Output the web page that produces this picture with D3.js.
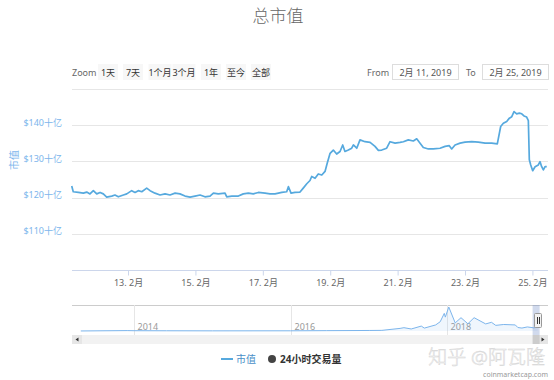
<!DOCTYPE html>
<html><head><meta charset="utf-8">
<script src="https://cdn.jsdelivr.net/npm/d3@7"></script>
<style>
html,body{margin:0;padding:0;background:#fff;}
svg{display:block;font-family:"Noto Sans","Noto Sans CJK SC",sans-serif;}
</style></head><body>
<svg id="chart" width="554" height="380"></svg>
<script>
// ---- data ----
const mcapTimes = ["02-11 07:54","02-11 09:00","02-11 12:36","02-11 16:12","02-11 18:36","02-11 20:54","02-11 23:18","02-12 01:42","02-12 04:06","02-12 06:24","02-12 08:48","02-12 12:24","02-12 14:42","02-12 17:06","02-12 20:42","02-12 23:06","02-13 02:36","02-13 05:00","02-13 07:18","02-13 09:48","02-13 13:18","02-13 15:42","02-13 19:12","02-13 22:48","02-14 02:24","02-14 05:54","02-14 09:30","02-14 13:00","02-14 16:36","02-14 20:12","02-14 23:42","02-15 03:18","02-15 06:48","02-15 10:24","02-15 12:48","02-15 16:18","02-15 21:06","02-15 22:18","02-16 01:54","02-16 06:36","02-16 10:06","02-16 13:42","02-16 17:12","02-16 20:48","02-17 01:36","02-17 05:06","02-17 08:42","02-17 13:30","02-17 17:00","02-17 18:12","02-17 20:06","02-17 22:54","02-18 02:30","02-18 04:48","02-18 07:18","02-18 09:36","02-18 10:48","02-18 13:12","02-18 15:30","02-18 18:00","02-18 20:18","02-18 21:54","02-18 23:54","02-19 02:12","02-19 04:36","02-19 07:00","02-19 08:54","02-19 10:30","02-19 12:54","02-19 15:18","02-19 16:30","02-19 18:54","02-19 21:12","02-20 00:48","02-20 04:24","02-20 07:54","02-20 10:18","02-20 12:42","02-20 16:12","02-20 18:36","02-20 22:12","02-21 01:42","02-21 04:06","02-21 07:36","02-21 11:12","02-21 13:36","02-21 16:00","02-21 18:18","02-21 21:54","02-22 01:24","02-22 06:12","02-22 09:48","02-22 12:48","02-22 14:30","02-22 16:54","02-22 20:30","02-23 00:00","02-23 04:48","02-23 09:30","02-23 14:18","02-23 19:00","02-23 23:00","02-24 01:24","02-24 03:18","02-24 05:42","02-24 07:36","02-24 09:18","02-24 10:54","02-24 12:48","02-24 14:42","02-24 16:24","02-24 18:00","02-24 19:54","02-24 21:06","02-24 21:48","02-24 22:48","02-25 00:12","02-25 01:54","02-25 04:12","02-25 05:24","02-25 06:36","02-25 07:48","02-25 09:00","02-25 10:12"];
const mcapValues = [123.2,121.6,121.4,121.2,121.5,121.0,121.9,121.0,121.4,121.0,120.1,120.4,120.7,120.2,120.7,121.0,121.9,121.4,121.9,121.6,122.6,121.9,121.2,120.7,121.0,120.7,121.2,121.0,120.4,120.1,120.4,120.7,120.2,120.4,121.2,121.0,121.2,120.2,120.4,120.4,121.0,121.2,121.0,121.4,121.2,121.0,121.0,121.4,121.6,123.0,121.2,121.4,121.5,122.6,123.8,124.7,125.8,125.3,126.5,126.2,127.2,129.5,132.2,133.1,132.0,132.7,134.5,132.7,133.1,133.6,134.5,133.6,135.9,135.4,135.2,134.1,133.0,133.1,133.6,135.4,135.0,135.2,135.4,135.9,135.6,136.2,135.0,133.8,133.4,133.4,133.6,134.1,134.3,133.4,134.5,135.0,135.3,135.4,135.3,135.0,135.0,134.8,139.6,140.5,141.0,141.9,142.3,143.7,143.1,143.3,143.1,142.5,142.2,141.2,130.4,129.0,127.4,128.5,129.0,129.9,128.5,127.6,128.5,128.5];
const yTickValues = [110,120,130,140,150];
const yLabelValues = [110,120,130,140];
const xTickDays = ["02-13","02-15","02-17","02-19","02-21","02-23","02-25"];
const navDates = ["2013-04-28","2013-11-30","2014-01-01","2014-06-01","2015-01-01","2016-01-01","2016-06-15","2017-01-01","2017-03-01","2017-05-25","2017-06-12","2017-07-16","2017-09-01","2017-09-15","2017-11-07","2017-11-28","2017-12-17","2017-12-22","2018-01-07","2018-02-06","2018-03-05","2018-04-06","2018-05-05","2018-06-28","2018-07-25","2018-08-14","2018-09-20","2018-11-13","2018-11-25","2018-12-14","2019-01-08","2019-02-07","2019-02-25"];
const navValues = [1.6,14,10,8,5,7,12,18,22,90,115,70,170,100,210,320,610,480,830,280,460,250,460,245,300,195,225,210,120,102,140,110,130];
const navYears = ["2014","2016","2018"];
const rangeButtons = ["1天","7天","1个月","3个月","1年","至今","全部"];
const legendItems = ["市值","24小时交易量"];

// ---- setup ----
const svg = d3.select("#chart");
const parseT = d3.timeParse("%Y-%m-%d %H:%M");
const parseD = d3.timeParse("%Y-%m-%d");
const series = mcapTimes.map((t,i)=>({t:parseT("2019-"+t), v:mcapValues[i]}));

const L = 72, R = 548, T = 88.8, B = 270;
const x = d3.scaleTime().domain([parseT("2019-02-11 08:06"), parseT("2019-02-25 11:06")]).range([L, R]);
const y = d3.scaleLinear().domain([100,150]).range([B, T]);

const blue = "#56a9de";

// title
svg.append("text").attr("x",278).attr("y",22).attr("text-anchor","middle")
  .attr("font-size",17).attr("font-weight",300).attr("fill","#666").text("总市值");

// range selector
svg.append("text").attr("x",72).attr("y",75.5).attr("font-size",9).attr("fill","#666").text("Zoom");
const btnCenters = [108,133,160,184,211,236,261];
rangeButtons.forEach((b,i)=>{
  const w = b.length>2 ? 23 : 20;
  svg.append("rect").attr("x",btnCenters[i]-w/2).attr("y",64).attr("width",w).attr("height",16)
    .attr("fill","#f7f7f7");
  svg.append("text").attr("x",btnCenters[i]).attr("y",75.5).attr("text-anchor","middle")
    .attr("font-size",9).attr("fill","#333").text(b);
});
svg.append("text").attr("x",367).attr("y",75.5).attr("font-size",9).attr("fill","#666").text("From");
svg.append("rect").attr("x",392.5).attr("y",64.5).attr("width",66).attr("height",15).attr("fill","#fff").attr("stroke","#ddd");
svg.append("text").attr("x",425.5).attr("y",75.5).attr("text-anchor","middle").attr("font-size",9).attr("fill","#555").text("2月 11, 2019");
svg.append("text").attr("x",466).attr("y",75.5).attr("font-size",9).attr("fill","#666").text("To");
svg.append("rect").attr("x",482.5).attr("y",64.5).attr("width",66).attr("height",15).attr("fill","#fff").attr("stroke","#ddd");
svg.append("text").attr("x",515.5).attr("y",75.5).attr("text-anchor","middle").attr("font-size",9).attr("fill","#555").text("2月 25, 2019");

// grid
svg.append("g").selectAll("line").data(yTickValues).join("line")
  .attr("x1",L).attr("x2",R).attr("y1",d=>Math.round(y(d))+0.5).attr("y2",d=>Math.round(y(d))+0.5)
  .attr("stroke","#e6e6e6");

// y labels
svg.append("g").selectAll("text").data(yLabelValues).join("text")
  .attr("x",62).attr("y",d=>y(d)+0.5).attr("text-anchor","end")
  .attr("font-size",9).attr("fill","#7cb5ec").text(d=>"$"+d+"十亿");
svg.append("text").attr("transform","translate(18,160) rotate(-90)").attr("text-anchor","middle")
  .attr("font-size",10).attr("fill","#7cb5ec").text("市值");

// x axis
const xAxis = d3.axisBottom(x).tickValues(xTickDays.map(d=>parseD("2019-"+d)))
  .tickSize(5).tickFormat(d=>d3.timeFormat("%d")(d)+". 2月");
const gx = svg.append("g").attr("transform",`translate(0,${B+0.5})`).call(xAxis);
gx.select(".domain").attr("stroke","#ccd6eb").attr("d",`M${L},0H${R}`);
gx.selectAll(".tick line").attr("stroke","#ccd6eb");
gx.selectAll(".tick text").attr("font-size",9).attr("fill","#666").attr("font-family","Noto Sans, Noto Sans CJK SC").attr("dy","0.8em");

// main line
svg.append("path").datum(series)
  .attr("fill","none").attr("stroke",blue).attr("stroke-width",1.7).attr("stroke-linejoin","round")
  .attr("d", d3.line().x(d=>x(d.t)).y(d=>y(d.v)));

// navigator
const navTop = 305, navBot = 333;
const nx = d3.scaleTime().domain([parseD("2013-04-28"), parseD("2019-02-25")]).range([80.8, 537.6]);
const ny = d3.scaleLinear().domain([0,830]).range([331, 307]);
const nav = navDates.map((d,i)=>({t:parseD(d), v:navValues[i]}));
svg.append("line").attr("x1",L).attr("x2",R).attr("y1",navTop+0.5).attr("y2",navTop+0.5).attr("stroke","#ccc");
navYears.forEach(yr=>{
  const xx = Math.round(nx(parseD(yr+"-01-01")))+0.5;
  svg.append("line").attr("x1",xx).attr("x2",xx).attr("y1",navTop).attr("y2",navBot+2).attr("stroke","#e6e6e6");
  svg.append("text").attr("x",xx+3).attr("y",330).attr("font-size",9).attr("fill","#999").text(yr);
});
svg.append("path").datum(nav).attr("fill","rgba(124,181,236,0.12)")
  .attr("d", d3.area().x(d=>nx(d.t)).y0(331).y1(d=>ny(d.v)));
svg.append("path").datum(nav).attr("fill","none").attr("stroke","#7cb5ec").attr("stroke-width",1)
  .attr("d", d3.line().x(d=>nx(d.t)).y(d=>ny(d.v)));
const selX0 = nx(parseD("2019-02-11")), selX1 = nx(parseD("2019-02-25"));
svg.append("rect").attr("x",selX0-2).attr("y",navTop).attr("width",selX1-selX0+4).attr("height",navBot-navTop+2)
  .attr("fill","rgba(102,133,194,0.3)");
svg.append("rect").attr("x",534.5).attr("y",313.5).attr("width",7).attr("height",14).attr("fill","#f2f2f2").attr("stroke","#999").attr("rx",1);
svg.append("line").attr("x1",537.5).attr("x2",537.5).attr("y1",317).attr("y2",324).attr("stroke","#333");
svg.append("line").attr("x1",539.5).attr("x2",539.5).attr("y1",317).attr("y2",324).attr("stroke","#333");

// scrollbar
svg.append("rect").attr("x",L).attr("y",335).attr("width",R-L).attr("height",9).attr("fill","#f2f2f2");
svg.append("rect").attr("x",L).attr("y",335).attr("width",10).attr("height",9).attr("fill","#e6e6e6");
svg.append("rect").attr("x",R-10).attr("y",335).attr("width",10).attr("height",9).attr("fill","#e6e6e6");
svg.append("rect").attr("x",selX0-2).attr("y",335).attr("width",selX1-selX0+4).attr("height",9).attr("fill","#ccc");
svg.append("path").attr("d",`M78.5,337.5L75.5,339.5L78.5,341.5Z`).attr("fill","#333");
svg.append("path").attr("d",`M541.5,337.5L544.5,339.5L541.5,341.5Z`).attr("fill","#333");

// legend
svg.append("line").attr("x1",221).attr("x2",233).attr("y1",359).attr("y2",359).attr("stroke",blue).attr("stroke-width",2);
svg.append("text").attr("x",236).attr("y",362.5).attr("font-size",10).attr("fill","#4a8fc8").text(legendItems[0]);
svg.append("circle").attr("cx",272).attr("cy",359).attr("r",4).attr("fill","#444");
svg.append("text").attr("x",280).attr("y",362.5).attr("font-size",10).attr("font-weight","bold").attr("fill","#333").text(legendItems[1]);

// watermark
svg.append("text").attr("x",545).attr("y",364).attr("text-anchor","end").attr("font-size",19).attr("font-weight",300)
  .attr("fill","#fff").attr("stroke","#d4d4d4").attr("stroke-width",0.5).text("知乎 @阿瓦隆");
svg.append("text").attr("x",548).attr("y",377).attr("text-anchor","end").attr("font-size",7).attr("fill","#999").text("coinmarketcap.com");
</script>
</body></html>
